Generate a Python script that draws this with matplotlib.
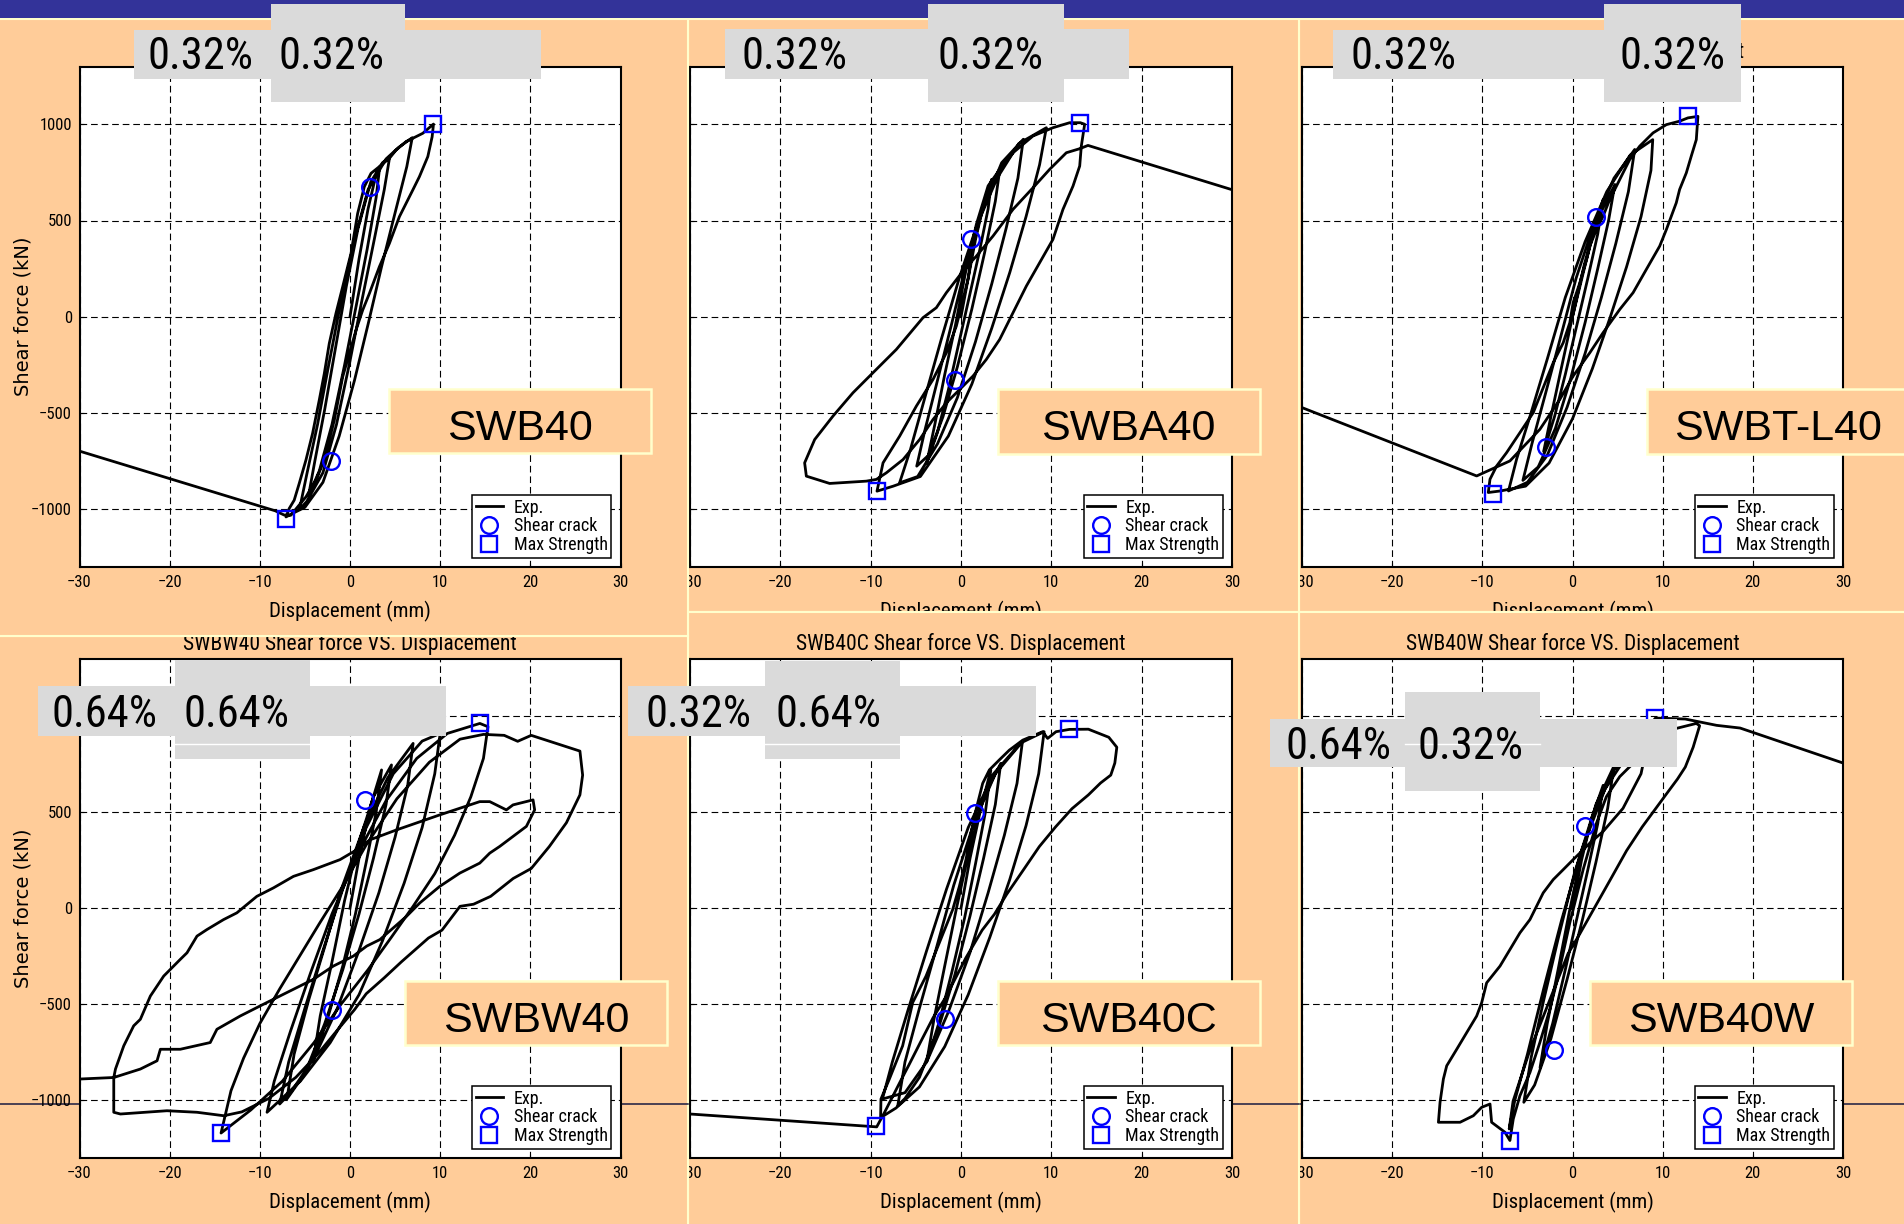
import matplotlib
matplotlib.use("Agg")
import matplotlib.pyplot as plt
from matplotlib import font_manager
from matplotlib.patches import Rectangle
from matplotlib.lines import Line2D

# ---- test records: (displacement mm, shear force kN) ----
swb40_curve = [
    (0, 0), (1.0, 300), (2.0, 560), (2.8, 720), (3.3, 780),
    (2.9, 620), (1.9, 350), (0.7, 60), (-0.6, -250), (-2.0, -560), (-3.4, -800), (-4.6, -930),
    (-3.9, -750), (-2.8, -480), (-1.6, -160), (-0.4, 160), (0.9, 460), (2.3, 700), (3.6, 800), (4.4, 830),
    (3.8, 660), (2.6, 380), (1.3, 80), (0.0, -230), (-1.5, -560), (-3.0, -810), (-4.8, -960), (-5.6, -1000),
    (-4.8, -820), (-3.6, -560), (-2.4, -260), (-1.0, 80), (0.5, 400), (2.0, 660), (4.0, 820), (5.4, 880), (6.9, 930),
    (6.3, 780), (5.0, 540), (3.5, 260), (2.0, -40), (0.5, -330), (-1.2, -620), (-3.0, -860), (-5.0, -990),
    (-6.3, -1020), (-7.1, -1040),
    (-6.74, -996), (-6.19, -953), (-5.63, -866), (-4.89, -745), (-4.15, -606), (-3.41, -433), (-2.85, -295),
    (-2.30, -139), (-1.56, 17), (-0.81, 156), (-0.26, 260), (0.11, 329), (0.48, 433), (0.85, 537), (1.22, 606),
    (1.59, 676), (2.33, 745), (3.26, 780), (4.37, 823), (5.11, 866), (6.22, 910), (6.96, 927), (8.07, 953),
    (9.26, 1001),
    (9.11, 935), (8.63, 832), (7.70, 728), (6.96, 658), (5.48, 520), (4.37, 381), (3.26, 260), (2.15, 121),
    (1.41, 35), (0.67, -69), (-0.07, -191), (-0.81, -312), (-1.74, -537), (-2.30, -641), (-2.85, -745),
    (-3.78, -849), (-4.89, -936), (-5.81, -988), (-6.56, -1031), (-7.3, -1030), (-8.3, -1008), (-30, -698),
]
swb40_crack = [(2.2, 676), (-2.1, -748)]
swb40_peak = [(9.26, 1001), (-7.05, -1050)]

swba40_curve = [
    (0, 0), (0.8, 200), (1.6, 400), (2.4, 560), (3.4, 714),
    (3.0, 560), (2.0, 330), (0.9, 100), (-0.3, -150), (-1.4, -380), (-2.6, -600), (-3.8, -760),
    (-2.9, -560), (-1.8, -300), (-0.6, -40), (0.5, 230), (1.7, 480), (3.0, 680), (4.3, 766),
    (3.8, 600), (2.6, 330), (1.2, 40), (-0.4, -260), (-2.0, -520), (-3.6, -720), (-4.9, -776),
    (-4.0, -590), (-2.6, -330), (-1.0, -30), (0.6, 280), (2.4, 560), (4.5, 800), (6.9, 922),
    (6.3, 720), (5.0, 460), (3.4, 170), (1.6, -130), (-0.4, -420), (-2.6, -660), (-4.8, -830), (-6.8, -863),
    (-5.6, -690), (-4.0, -420), (-2.2, -120), (-0.2, 200), (1.8, 480), (4.0, 720), (6.4, 900), (9.45, 982),
    (8.7, 790), (7.2, 520), (5.4, 230), (3.4, -60), (1.2, -350), (-1.4, -620), (-4.5, -830), (-7.5, -880),
    (-9.3, -906),
    (-8.63, -759), (-6.79, -620), (-4.94, -464), (-3.10, -326), (-1.62, -187), (-0.52, -49), (0.04, 55),
    (0.77, 194), (1.33, 367), (2.07, 506), (3.17, 662), (4.28, 766), (5.76, 852), (7.97, 939), (10.18, 982),
    (12.03, 1008), (13.21, 1008), (13.69, 1000),
    (13.32, 887), (13.14, 783), (12.40, 679), (11.29, 558), (10.18, 402), (8.71, 281), (7.23, 159), (5.76, 21),
    (4.28, -118), (2.80, -222), (1.33, -308), (-0.15, -378), (-1.62, -447), (-3.10, -534), (-4.58, -638),
    (-6.42, -742), (-8.27, -811), (-9.37, -845), (-10.48, -854), (-14.54, -866), (-17.12, -828), (-17.31, -759),
    (-16.20, -638), (-14.17, -516), (-11.96, -395), (-10.11, -308), (-7.16, -170), (-4.21, -5), (-2.73, 47),
    (-1.62, 125), (0.22, 237), (1.70, 315), (3.54, 419), (5.76, 558), (7.97, 670), (9.82, 766), (11.66, 852),
    (13.14, 873), (14.06, 890), (30, 660),
]
swba40_crack = [(1.1, 402), (-0.7, -326)]
swba40_peak = [(13.2, 1008), (-9.3, -906)]

swbtl40_curve = [
    (0, 0), (1.2, 230), (2.4, 450), (3.4, 609),
    (2.8, 430), (1.7, 200), (0.5, -40), (-0.8, -300), (-2.0, -520), (-3.2, -700),
    (-2.4, -520), (-1.3, -280), (0.0, 0), (1.3, 270), (2.7, 500), (4.7, 687),
    (4.0, 500), (2.8, 250), (1.4, -30), (-0.2, -320), (-1.9, -580), (-3.8, -780), (-5.5, -850),
    (-4.5, -660), (-3.0, -400), (-1.4, -120), (0.4, 200), (2.3, 470), (4.6, 720), (6.9, 869),
    (6.2, 650), (4.8, 380), (3.2, 100), (1.4, -190), (-0.6, -470), (-2.8, -720), (-5.0, -860), (-7.1, -905),
    (-6.2, -740), (-4.6, -500), (-2.8, -220), (-0.8, 100), (1.4, 390), (3.8, 650), (6.4, 840), (8.9, 920),
    (8.7, 760), (7.6, 520), (6.0, 260), (4.2, 0), (2.2, -270), (0.0, -530), (-2.6, -760), (-5.2, -880),
    (-8.0, -905), (-9.34, -913),
    (-9.15, -844), (-8.41, -775), (-7.31, -706), (-5.83, -602), (-4.35, -498), (-3.62, -412), (-2.88, -325),
    (-2.14, -239), (-1.03, -135), (-0.30, -31), (0.07, 73), (0.81, 176), (1.55, 298), (1.92, 367), (2.66, 453),
    (3.39, 522), (4.13, 609), (5.24, 713), (6.35, 817), (7.45, 886), (8.93, 955), (10.41, 998), (11.88, 1016),
    (12.80, 1033), (13.91, 1041),
    (13.73, 920), (13.17, 834), (12.62, 747), (11.88, 661), (11.51, 592), (10.41, 453), (9.67, 367), (8.19, 246),
    (6.72, 125), (5.24, 38), (3.39, -83), (1.92, -187), (0.07, -308), (-1.40, -429), (-2.88, -533),
    (-3.62, -585), (-6.94, -749), (-10.63, -827), (-30, -472),
]
swbtl40_crack = [(2.66, 517), (-2.95, -676)]
swbtl40_peak = [(12.8, 1041), (-8.86, -919)]

swbw40_curve = [
    (0, 0), (1.0, 260), (2.2, 520), (3.5, 720),
    (2.9, 500), (1.8, 240), (0.6, -30), (-0.8, -300), (-2.4, -560), (-4.1, -800),
    (-3.3, -560), (-2.0, -280), (-0.6, 40), (0.9, 330), (2.6, 580), (4.6, 746),
    (4.0, 540), (2.6, 260), (1.0, -30), (-0.8, -320), (-2.8, -600), (-5.0, -860), (-7.0, -993),
    (-6.2, -760), (-4.6, -480), (-2.8, -200), (-0.8, 120), (1.6, 430), (4.2, 680), (7.0, 858),
    (6.4, 640), (5.0, 370), (3.2, 80), (1.0, -220), (-1.4, -520), (-4.0, -780), (-6.6, -960), (-7.8, -1019),
    (-6.8, -800), (-5.0, -520), (-3.0, -220), (-0.8, 100), (1.8, 420), (4.8, 700), (8.0, 870), (10.0, 910),
    (9.4, 700), (8.0, 420), (6.0, 130), (3.6, -170), (1.0, -450), (-2.2, -700), (-5.5, -900), (-9.2, -1062),
    (-8.4, -900), (-6.6, -640), (-4.4, -340), (-2.0, -30), (0.8, 280), (4.0, 560), (7.4, 780), (10.8, 910),
    (14.4, 962),
    (15.3, 945), (14.8, 780), (13.4, 580), (11.6, 380), (9.4, 180), (7.0, 10), (4.6, -150), (2.0, -320),
    (-1.0, -500), (-4.0, -700), (-7.5, -900), (-11.0, -1050), (-13.2, -1130), (-14.3, -1170),
    (-14.0, -1110), (-13.2, -950), (-11.8, -780), (-10.0, -600), (-7.8, -420), (-5.6, -250), (-3.4, -80),
    (-1.0, 100), (1.8, 330), (5.2, 570), (8.8, 760), (12.2, 880), (14.8, 905), (17.1, 900), (18.6, 869),
    (20.1, 900), (25.5, 818), (25.8, 693), (25.5, 590), (24.0, 445), (22.1, 321), (20.1, 207), (18.1, 155),
    (15.6, 62), (13.7, 21), (12.2, 10), (11.2, -52), (10.2, -114), (8.7, -155), (7.2, -217), (5.7, -279),
    (3.8, -362), (1.8, -445), (0.5, -528), (-1.5, -640), (-3.6, -760), (-6.0, -880), (-9.0, -990),
    (-12.0, -1060), (-14.0, -1080),
    (-16.97, -1062), (-20.30, -1054), (-25.46, -1071), (-26.2, -1062), (-26.2, -881), (-26.01, -837),
    (-25.09, -716), (-23.99, -612), (-23.25, -578), (-22.14, -457), (-20.66, -353), (-18.82, -266),
    (-18.08, -232), (-16.97, -145), (-15.87, -111), (-14.02, -59), (-12.55, -24), (-10.33, 62), (-8.49, 106),
    (-6.27, 166), (-4.06, 201), (-1.11, 253), (0.74, 304), (2.21, 356), (5.17, 408), (9.96, 486), (14.39, 555),
    (15.50, 555), (17.34, 512), (18.08, 538), (20.30, 564), (20.48, 512), (19.56, 426), (18.08, 374),
    (16.61, 322), (15.50, 287), (14.39, 235), (12.18, 183), (9.96, 114), (7.75, 28), (6.27, -42), (3.32, -163),
    (1.85, -197), (0.37, -249), (-1.85, -301), (-4.06, -370), (-7.01, -439), (-9.23, -491), (-12.18, -561),
    (-14.76, -630), (-15.50, -699), (-18.82, -734), (-21.03, -734), (-21.40, -794), (-23.25, -837),
    (-26.2, -881), (-30, -889),
]
swbw40_crack = [(1.66, 564), (-1.96, -529)]
swbw40_peak = [(14.39, 962), (-14.32, -1170)]

swb40c_curve = [
    (0, 0), (1.0, 260), (2.2, 520), (3.3, 720),
    (2.7, 500), (1.6, 230), (0.4, -50), (-1.0, -330), (-2.4, -590), (-3.8, -800),
    (-3.0, -580), (-1.8, -300), (-0.5, 0), (0.9, 300), (2.5, 580), (4.4, 754),
    (3.8, 540), (2.5, 260), (1.0, -40), (-0.7, -350), (-2.6, -640), (-4.6, -880), (-6.2, -990), (-7.0, -1028),
    (-6.2, -800), (-4.6, -520), (-2.8, -220), (-0.8, 120), (1.4, 440), (3.8, 700), (6.8, 867),
    (6.2, 650), (4.8, 380), (3.0, 80), (1.0, -230), (-1.4, -540), (-3.8, -800), (-6.2, -960), (-8.7, -993),
    (-7.6, -800), (-5.8, -520), (-3.8, -220), (-1.6, 100), (0.8, 420), (3.6, 700), (6.6, 860), (9.2, 919),
    (8.6, 700), (7.2, 430), (5.4, 150), (3.2, -150), (0.8, -450), (-1.8, -720), (-4.6, -930), (-7.2, -1040),
    (-8.9, -1090),
    (-8.86, -993), (-7.93, -889), (-6.46, -716), (-5.35, -491), (-3.87, -353), (-2.40, -180), (-0.92, -7),
    (-0.18, 114), (0.55, 253), (1.11, 391), (1.66, 512), (2.40, 650), (3.14, 720), (4.24, 772), (5.35, 823),
    (6.83, 875), (9.04, 919), (9.59, 884), (10.52, 919), (12.0, 931),
    (14.10, 932), (16.36, 890), (17.25, 838), (17.03, 756), (16.58, 693), (15.45, 652), (14.10, 590),
    (12.28, 518), (10.48, 424), (8.67, 321), (6.87, 197), (5.05, 72), (3.70, -31), (2.34, -114), (0.53, -259),
    (-0.37, -342), (-1.73, -466), (-3.08, -569), (-4.44, -693), (-5.79, -818), (-6.70, -900), (-7.60, -983),
    (-8.50, -1066), (-9.33, -1138), (-30, -1071),
]
swb40c_crack = [(1.59, 498), (-1.73, -578)]
swb40c_peak = [(12.0, 931), (-9.4, -1135)]

swb40w_curve = [
    (0, 0), (1.0, 250), (2.2, 480), (3.4, 640),
    (2.8, 440), (1.7, 200), (0.5, -50), (-0.8, -320), (-2.2, -600), (-3.6, -830),
    (-2.8, -600), (-1.6, -320), (-0.4, -30), (0.9, 260), (2.6, 540), (4.6, 740),
    (3.9, 520), (2.6, 240), (1.1, -60), (-0.6, -370), (-2.4, -680), (-4.2, -920), (-5.4, -1010),
    (-4.6, -780), (-3.2, -480), (-1.6, -160), (0.2, 180), (2.2, 480), (4.6, 720), (6.8, 830), (8.5, 900),
    (7.6, 700), (5.6, 520), (3.4, 400), (1.92, 339), (0.81, 287), (0.07, 253), (-1.03, 201), (-2.14, 149),
    (-3.25, 80), (-3.99, 10), (-4.72, -59), (-5.83, -128), (-6.94, -215), (-8.04, -301), (-9.52, -388),
    (-10.07, -491), (-10.63, -561), (-11.73, -647), (-12.84, -734), (-13.95, -820), (-14.32, -889),
    (-14.69, -1010), (-14.87, -1114), (-12.47, -1114), (-11.0, -1080), (-10.07, -1036), (-9.15, -1019),
    (-8.97, -1114), (-7.49, -1166), (-6.94, -1209),
    (-6.57, -1097), (-5.83, -976), (-4.72, -855), (-3.62, -699), (-2.51, -526), (-1.77, -388), (-1.03, -232),
    (-0.30, -76), (0.44, 62), (1.18, 201), (1.92, 322), (2.66, 443), (3.76, 581), (5.24, 685), (6.72, 754),
    (8.19, 823), (9.30, 875), (10.41, 927), (11.51, 936), (13.73, 962), (14.1, 950),
    (13.38, 838), (12.51, 735), (11.65, 673), (10.34, 590), (9.04, 507), (7.74, 424), (6.00, 300), (4.27, 155),
    (2.53, 10), (0.79, -135), (-0.51, -238), (-1.38, -342), (-2.25, -445), (-3.12, -549), (-3.99, -652),
    (-4.85, -756), (-5.72, -880), (-6.59, -1004), (-7.02, -1149),
    (-6.4, -1000), (-5.0, -760), (-3.2, -420), (-1.2, -60), (1.0, 300), (3.6, 620), (6.4, 820), (9.2, 990),
    (12.5, 985), (15.99, 952), (18.59, 938), (30, 756),
]
swb40w_crack = [(1.37, 426), (-2.03, -737)]
swb40w_peak = [(9.2, 990), (-6.94, -1209)]

specimens = ["SWB40", "SWBA40", "SWBT-L40", "SWBW40", "SWB40C", "SWB40W"]
curves = [swb40_curve, swba40_curve, swbtl40_curve, swbw40_curve, swb40c_curve, swb40w_curve]
cracks = [swb40_crack, swba40_crack, swbtl40_crack, swbw40_crack, swb40c_crack, swb40w_crack]
peaks = [swb40_peak, swba40_peak, swbtl40_peak, swbw40_peak, swb40c_peak, swb40w_peak]
ratio_left = ["0.32%", "0.32%", "0.32%", "0.64%", "0.32%", "0.64%"]
ratio_right = ["0.32%", "0.32%", "0.32%", "0.64%", "0.64%", "0.32%"]

# ---- page layout in pixels ----
W, H = 1904, 1224
PEACH, CREAM, GREY, NAVY = "#FFCC99", "#FFFFCC", "#DADADA", "#333399"

fonts = {f.name for f in font_manager.fontManager.ttflist}
narrow = next((n for n in ["Liberation Sans Narrow", "Roboto Condensed", "Open Sans Condensed"]
               if n in fonts), "Liberation Sans")
plt.rcParams["font.family"] = [narrow, "DejaVu Sans"]

# pasted chart pieces: cut-out region, axes box, stacking order
regions = [(-5, 19, 688, 636), (688, 19, 1299, 612), (1299, 19, 1910, 612),
           (-5, 636, 688, 1230), (688, 612, 1299, 1230), (1299, 612, 1910, 1230)]
axes_px = [(79.5, 66.5, 620.5, 567), (690, 66.5, 1232, 567), (1302, 66.5, 1843, 567),
           (79.5, 658.5, 620.5, 1158), (690, 658.5, 1232, 1158), (1302, 658.5, 1843, 1158)]
stack = [6, 2, 1, 5, 4, 3]

name_box = [(389, 388.6, 651, 453), (997.6, 388.6, 1259.6, 454), (1647, 388.6, 1915, 454),
            (405, 981, 667, 1045), (997.6, 981, 1259.6, 1045), (1589.5, 981, 1852, 1045)]
name_x = [520, 1128, 1778, 536, 1128, 1721]
name_base = [440, 440, 440, 1032, 1032, 1032]

grey_a = [(134, 30, 541, 79), (725, 29, 1129, 79), (1333, 30, 1737, 79),
          (38, 686, 445.5, 736), (628, 686, 1036, 736), (1270, 718.6, 1677, 767)]
grey_b = [(271, 4, 405, 102), (928, 4, 1064, 102), (1604, 4, 1741, 102),
          (175, 660, 310, 759), (765, 660.5, 900, 759), (1405, 692, 1540, 791)]
pct_x = [(200.5, 331.5), (794, 990), (1403.5, 1672), (105, 236), (698, 829), (1339, 1470)]
pct_base = [69, 69, 69, 727, 727, 759]

fig = plt.figure(figsize=(W / 100, H / 100), dpi=100, facecolor=PEACH)


def fx(x):
    return x / W


def fy(y):
    return 1 - y / H


def rect(x0, y0, x1, y1, z, fc, ec="none", lw=0):
    fig.add_artist(Rectangle((fx(x0), fy(y1)), (x1 - x0) / W, (y1 - y0) / H,
                             transform=fig.transFigure, fc=fc, ec=ec, lw=lw, zorder=z))


def hline(x0, x1, y, z, color, lw):
    fig.add_artist(Line2D([fx(x0), fx(x1)], [fy(y), fy(y)], transform=fig.transFigure,
                          color=color, lw=lw, zorder=z))


for i, name in enumerate(specimens):
    z = stack[i]
    x0, y0, x1, y1 = regions[i]
    rect(x0, y0, x1, y1, z - 0.2, PEACH, CREAM, 1.5)
    if i >= 3:
        hline(x0, x1, 1104, z - 0.1, "#1a1a40", 1.1)

    a0, b0, a1, b1 = axes_px[i]
    ax = fig.add_axes([fx(a0), fy(b1), (a1 - a0) / W, (b1 - b0) / H], zorder=z)
    xs, ys = zip(*curves[i])
    cx, cy = zip(*cracks[i])
    px, py = zip(*peaks[i])
    ax.plot(xs, ys, color="k", lw=2.0, label="Exp.", zorder=3)
    ax.plot(cx, cy, ls="none", marker="o", ms=12, mfc="none", mec="#0000FF", mew=1.7,
            label="Shear crack", zorder=4)
    ax.plot(px, py, ls="none", marker="s", ms=11, mfc="none", mec="#0000FF", mew=1.7,
            label="Max Strength", zorder=4)

    ax.set_xlim(-30, 30)
    ax.set_ylim(-1300, 1300)
    ax.set_xticks(range(-30, 31, 10))
    ax.set_yticks(range(-1000, 1001, 500))
    ax.grid(True, color="k", ls=(0, (6, 3.5)), lw=0.8)
    ax.tick_params(direction="in", length=3, labelsize=12, pad=5.5)
    for s in ax.spines.values():
        s.set_linewidth(1.5)
    ax.set_title(f"{name} Shear force VS. Displacement", fontsize=15.5, pad=6)
    ax.set_xlabel("Displacement (mm)", fontsize=15, labelpad=8)
    ax.set_ylabel("Shear force (kN)", fontsize=14, family="DejaVu Sans", labelpad=-1)
    leg = ax.legend(loc="lower right", fontsize=13, fancybox=False, framealpha=1, edgecolor="k",
                    borderpad=0.2, labelspacing=0.05, handlelength=1.5, handletextpad=0.6,
                    borderaxespad=0.5)
    leg.get_frame().set_linewidth(1.1)

    # specimen tag
    bx0, by0, bx1, by1 = name_box[i]
    rect(bx0, by0, bx1, by1, 20, PEACH, CREAM, 1.8)
    fig.text(fx(name_x[i]), fy(name_base[i]), name, fontsize=31, family="Liberation Sans",
             ha="center", va="baseline", zorder=21)

    # reinforcement ratio tags
    for g in (grey_a[i], grey_b[i]):
        rect(*g, 20, GREY)
    if i >= 3:
        hline(grey_b[i][0], grey_b[i][2], 744, 21, "white", 1.0)
    for xc, txt in zip(pct_x[i], (ratio_left[i], ratio_right[i])):
        fig.text(fx(xc), fy(pct_base[i]), txt, fontsize=32, ha="center", va="baseline", zorder=22)

# title bar
rect(-5, -5, 1910, 18.4, 15, NAVY)

fig.savefig("out.png", dpi=100, facecolor=PEACH)
